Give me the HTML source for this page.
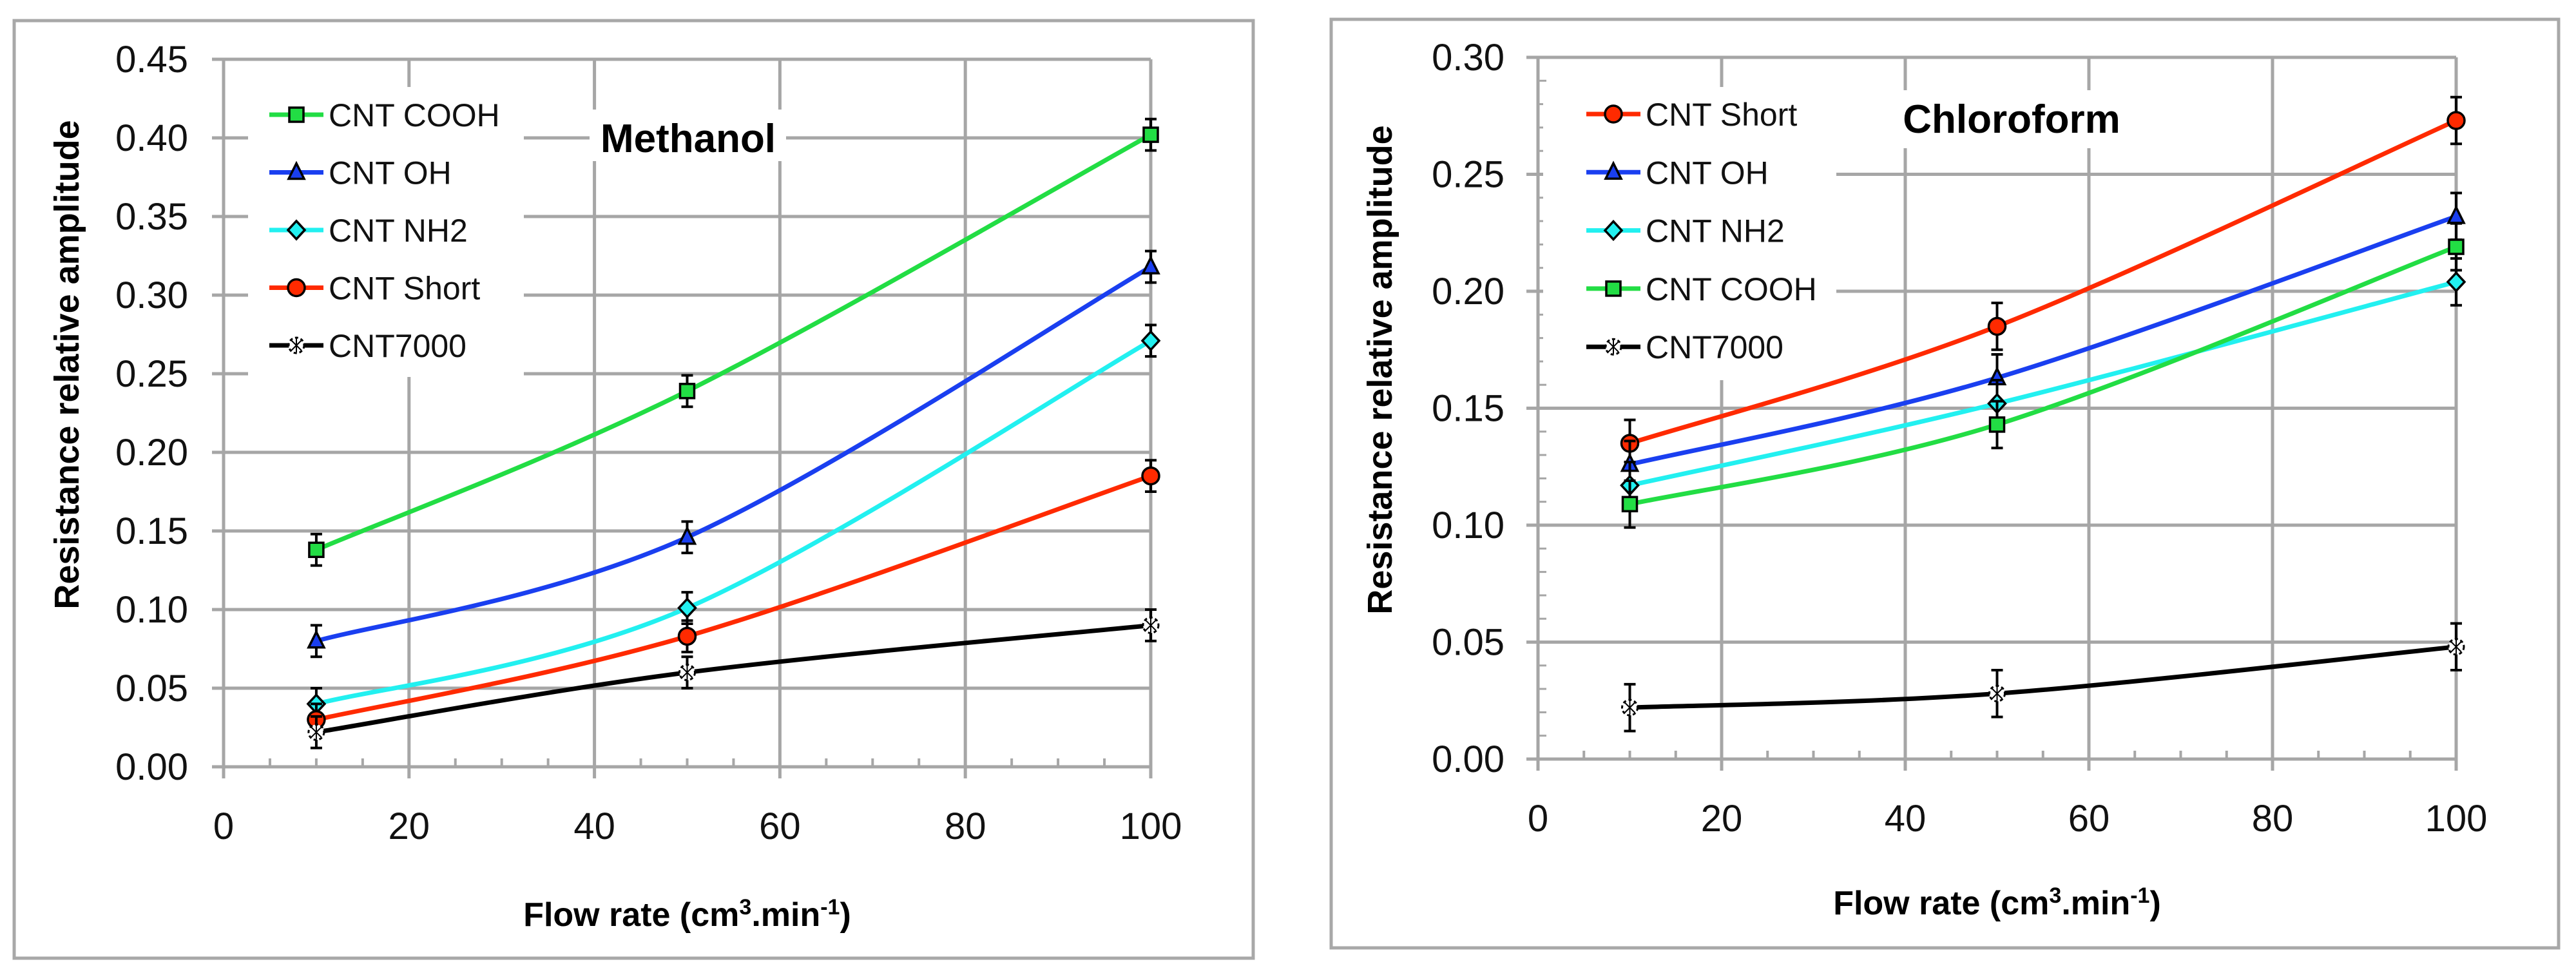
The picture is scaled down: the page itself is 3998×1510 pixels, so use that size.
<!DOCTYPE html>
<html><head><meta charset="utf-8"><style>
html,body{margin:0;padding:0;background:#fff;}
svg{display:block;}
text{font-family:"Liberation Sans",sans-serif;}
</style></head><body>
<svg id="fig" width="3998" height="1510" viewBox="0 0 3998 1510" xmlns="http://www.w3.org/2000/svg"></svg>
<script>
// ---- data ----
const flowRates = [10, 50, 100];
const xTicks = [0, 20, 40, 60, 80, 100];
const methanolSeriesNames = ["CNT COOH", "CNT OH", "CNT NH2", "CNT Short", "CNT7000"];
const methanolCOOH = [0.138, 0.239, 0.402];
const methanolOH = [0.080, 0.146, 0.318];
const methanolNH2 = [0.040, 0.101, 0.271];
const methanolShort = [0.030, 0.083, 0.185];
const methanol7000 = [0.022, 0.060, 0.090];
const methanolYTicks = ["0.00","0.05","0.10","0.15","0.20","0.25","0.30","0.35","0.40","0.45"];
const chloroSeriesNames = ["CNT Short", "CNT OH", "CNT NH2", "CNT COOH", "CNT7000"];
const chloroShort = [0.135, 0.185, 0.273];
const chloroOH = [0.126, 0.163, 0.232];
const chloroNH2 = [0.117, 0.152, 0.204];
const chloroCOOH = [0.109, 0.143, 0.219];
const chloro7000 = [0.022, 0.028, 0.048];
const chloroYTicks = ["0.00","0.05","0.10","0.15","0.20","0.25","0.30"];
const errorBar = 0.01;

const NS = "http://www.w3.org/2000/svg";
const svg = document.getElementById("fig");
function mk(tag, attrs, parent) {
  const e = document.createElementNS(NS, tag);
  for (const k in attrs) e.setAttribute(k, attrs[k]);
  (parent || svg).appendChild(e);
  return e;
}
const COLORS = {"CNT COOH":"#22dd44","CNT OH":"#1a3ff0","CNT NH2":"#22f0f0","CNT Short":"#ff2a00","CNT7000":"#000000"};
const FILLS = {"CNT COOH":"#22dd44","CNT OH":"#1a3ff0","CNT NH2":"#22f0f0","CNT Short":"#ff2a00","CNT7000":"#ffffff"};
const SHAPES = {"CNT COOH":"square","CNT OH":"triangle","CNT NH2":"diamond","CNT Short":"circle","CNT7000":"star"};

function marker(g, name, cx, cy) {
  const shape = SHAPES[name], f = FILLS[name];
  let m;
  if (shape === "square") m = mk("rect", {x:cx-11, y:cy-11, width:22, height:22, fill:f, stroke:"#000", "stroke-width":3.5}, g);
  else if (shape === "triangle") m = mk("polygon", {points:`${cx},${cy-14} ${cx+12},${cy+10} ${cx-12},${cy+10}`, fill:f, stroke:"#000", "stroke-width":3.5}, g);
  else if (shape === "diamond") m = mk("polygon", {points:`${cx},${cy-14} ${cx+13},${cy} ${cx},${cy+14} ${cx-13},${cy}`, fill:f, stroke:"#000", "stroke-width":3.5}, g);
  else if (shape === "circle") m = mk("circle", {cx:cx, cy:cy, r:13, fill:f, stroke:"#000", "stroke-width":3.5}, g);
  else {
    m = mk("g", {}, g);
    mk("circle", {cx:cx, cy:cy, r:12, fill:"#fff", stroke:"#000", "stroke-width":3, "stroke-dasharray":"5 4"}, m);
    mk("path", {d:`M${cx-8},${cy-8}L${cx+8},${cy+8}M${cx+8},${cy-8}L${cx-8},${cy+8}M${cx},${cy-11}V${cy+11}`, stroke:"#000", "stroke-width":2}, m);
  }
  
  
}

function smoothPath(pts) {
  let d = `M${pts[0][0]},${pts[0][1]}`;
  for (let i = 0; i < pts.length - 1; i++) {
    const p0 = pts[Math.max(0,i-1)], p1 = pts[i], p2 = pts[i+1], p3 = pts[Math.min(pts.length-1,i+2)];
    const t = 0.5/3;
    const c1 = [p1[0] + (p2[0]-p0[0])*t, p1[1] + (p2[1]-p0[1])*t];
    const c2 = [p2[0] - (p3[0]-p1[0])*t, p2[1] - (p3[1]-p1[1])*t];
    d += `C${c1[0]},${c1[1]} ${c2[0]},${c2[1]} ${p2[0]},${p2[1]}`;
  }
  return d;
}

function drawChart(cfg) {
  const root = mk("g", {});
  
  
  const frame = mk("rect", {x:cfg.box[0], y:cfg.box[1], width:cfg.box[2]-cfg.box[0], height:cfg.box[3]-cfg.box[1], fill:"#fff", stroke:"#a8a8a8", "stroke-width":5}, root);
  
  
  const xS = v => cfg.x0 + (v / 100) * (cfg.x1 - cfg.x0);
  const yS = v => cfg.yb + (v / cfg.ymax) * (cfg.yt - cfg.yb);
  const grid = mk("g", {stroke:"#a6a6a6", "stroke-width":5}, root);
  
  
  // horizontal grid + y labels
  cfg.yTicks.forEach(t => {
    const y = yS(parseFloat(t));
    mk("line", {x1:cfg.x0-18, x2:cfg.x1, y1:y, y2:y}, grid);
    const lbl = mk("text", {x:cfg.yLabelX, y:y+20, "text-anchor":"end", "font-size":58, fill:"#111"}, root);
    lbl.textContent = t;
    
    
  });
  // vertical grid + x labels
  xTicks.forEach(t => {
    const x = xS(t);
    mk("line", {x1:x, x2:x, y1:cfg.yt, y2:cfg.yb+18}, grid);
    const lbl = mk("text", {x:x, y:cfg.yb+112, "text-anchor":"middle", "font-size":58, fill:"#111"}, root);
    lbl.textContent = t;
    
    
  });
  // x minor ticks
  for (let v = 5; v < 100; v += 5) { if (v % 20) mk("line", {x1:xS(v), x2:xS(v), y1:cfg.yb, y2:cfg.yb-13, "stroke-width":4}, grid); }
  if (cfg.yMinor) {
    for (let v = 0.01; v < cfg.ymax; v += 0.01) mk("line", {x1:cfg.x0, x2:cfg.x0+13, y1:yS(v), y2:yS(v), "stroke-width":3}, grid);
  }
  // legend background
  const lb = mk("rect", {x:cfg.legBg[0], y:cfg.legBg[1], width:cfg.legBg[2], height:cfg.legBg[3], fill:"#fff"}, root);
  
  
  const tb = mk("rect", {x:cfg.titleBg[0], y:cfg.titleBg[1], width:cfg.titleBg[2], height:cfg.titleBg[3], fill:"#fff"}, root);
  
  
  // series
  cfg.names.forEach((name, si) => {
    const vals = cfg.values[si];
    const g = mk("g", {}, root);
    
    
    const pts = flowRates.map((f, i) => [xS(f), yS(vals[i])]);
    const p = mk("path", {d:smoothPath(pts), fill:"none", stroke:COLORS[name], "stroke-width":7}, g);
    
    
    flowRates.forEach((f, i) => {
      const x = xS(f), yh = yS(vals[i] + errorBar), yl = yS(vals[i] - errorBar);
      const eb = mk("path", {d:`M${x},${yh}V${yl}M${x-9},${yh}H${x+9}M${x-9},${yl}H${x+9}`, stroke:"#000", "stroke-width":4, fill:"none"}, g);
      
      
    });
    flowRates.forEach((f, i) => marker(g, name, xS(f), yS(vals[i])));
    // legend entry
    const ly = cfg.legY + si * cfg.legStep;
    const le = mk("g", {}, root);
    
    
    mk("line", {x1:cfg.legX, x2:cfg.legX+84, y1:ly, y2:ly, stroke:COLORS[name], "stroke-width":7}, le);
    marker(le, name, cfg.legX+42, ly);
    const lt = mk("text", {x:cfg.legX+92, y:ly+18, "font-size":50, fill:"#111"}, le);
    lt.textContent = name;
  });
  // title
  const tt = mk("text", {x:cfg.titleX, y:cfg.titleY, "text-anchor":"middle", "font-size":62, "font-weight":"bold", fill:"#000"}, root);
  tt.textContent = cfg.title;
  
  
  // axis titles
  const xt = mk("text", {x:(cfg.x0+cfg.x1)/2, y:cfg.xTitleY, "text-anchor":"middle", "font-size":52, "font-weight":"bold", fill:"#000"}, root);
  xt.innerHTML = 'Flow rate (cm<tspan font-size="34" dy="-18">3</tspan><tspan dy="18">.min</tspan><tspan font-size="34" dy="-18">-1</tspan><tspan dy="18">)</tspan>';
  
  
  const yt = mk("text", {x:0, y:0, "text-anchor":"middle", "font-size":54, "font-weight":"bold", fill:"#000", transform:`translate(${cfg.yTitleX},${cfg.yTitleY}) rotate(-90)`}, root);
  yt.textContent = "Resistance relative amplitude";
  
  
}

drawChart({
  id:"methanol", box:[22,32,1945,1487], x0:347, x1:1786, yt:92, yb:1190, ymax:0.45,
  yTicks:methanolYTicks, yLabelX:292, yMinor:false,
  names:methanolSeriesNames, values:[methanolCOOH, methanolOH, methanolNH2, methanolShort, methanol7000],
  legX:418, legY:178, legStep:89.5, legBg:[385,135,428,450], titleBg:[915,170,305,80],
  title:"Methanol", titleX:1068, titleY:236, xTitleX:1066, xTitleY:1437, yTitleX:122, yTitleY:566
});
drawChart({
  id:"chloroform", box:[2066,30,3971,1471], x0:2387, x1:3812, yt:89, yb:1178, ymax:0.30,
  yTicks:chloroYTicks, yLabelX:2335, yMinor:true,
  names:chloroSeriesNames, values:[chloroShort, chloroOH, chloroNH2, chloroCOOH, chloro7000],
  legX:2462, legY:177, legStep:90.3, legBg:[2395,135,455,455], titleBg:[2940,140,365,90],
  title:"Chloroform", titleX:3122, titleY:206, xTitleY:1419, yTitleX:2160, yTitleY:574
});
</script>
</body></html>
